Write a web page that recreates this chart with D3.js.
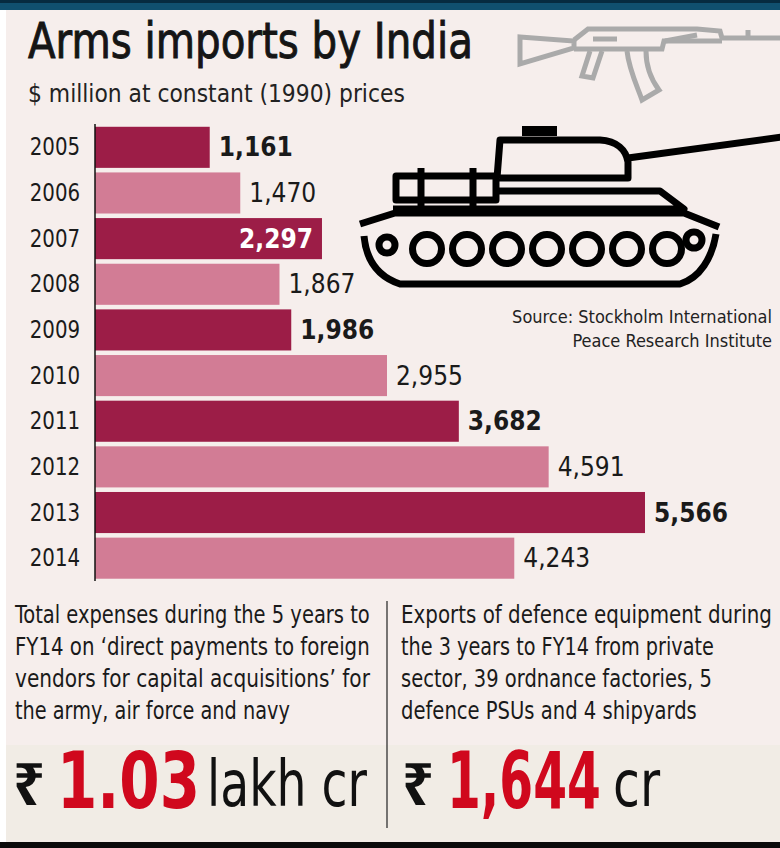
<!DOCTYPE html>
<html>
<head>
<meta charset="utf-8">
<script src="https://cdn.jsdelivr.net/npm/d3@7"></script>
<style>
  html, body { margin: 0; padding: 0; background: #ffffff; }
  svg { display: block; }
</style>
</head>
<body>
<script>
// ---------- data ----------
const years = ["2005","2006","2007","2008","2009","2010","2011","2012","2013","2014"];
const imports = [1161, 1470, 2297, 1867, 1986, 2955, 3682, 4591, 5566, 4243];
const titleText = "Arms imports by India";
const subtitleText = "$ million at constant (1990) prices";
const sourceLines = ["Source: Stockholm International", "Peace Research Institute"];
const leftNote = ["Total expenses during the 5 years to", "FY14 on \u2018direct payments to foreign", "vendors for capital acquisitions\u2019 for", "the army, air force and navy"];
const rightNote = ["Exports of defence equipment during", "the 3 years to FY14 from private", "sector, 39 ordnance factories, 5", "defence PSUs and 4 shipyards"];
const leftFigure = {sym: "\u20B9", num: "1.03", unit: "lakh cr"};
const rightFigure = {sym: "\u20B9", num: "1,644", unit: "cr"};

// ---------- setup ----------
const W = 780, H = 848;
const COND = '"Liberation Sans Narrow", "DejaVu Sans Condensed", sans-serif';
const svg = d3.select("body").append("svg").attr("width", W).attr("height", H);

svg.append("rect").attr("width", W).attr("height", H).attr("fill", "#ffffff");
svg.append("rect").attr("x", 6).attr("y", 10).attr("width", W - 6).attr("height", 833).attr("fill", "#f6eeec");
svg.append("rect").attr("x", 6).attr("y", 745).attr("width", W - 6).attr("height", 98).attr("fill", "#f1ece5");
svg.append("rect").attr("x", 0).attr("y", 0).attr("width", W).attr("height", 10).attr("fill", "#10506f");
svg.append("rect").attr("x", 0).attr("y", 0).attr("width", W).attr("height", 3).attr("fill", "#062b40");
svg.append("rect").attr("x", 0).attr("y", 842).attr("width", W).attr("height", 6).attr("fill", "#0a0a0a");

// squeeze a text horizontally to a given width (keeps it real text)
function fit(sel, w) {
  const len = sel.node().getComputedTextLength();
  const x0 = +sel.attr("x"), y0 = +sel.attr("y");
  sel.attr("x", 0).attr("y", 0)
     .attr("transform", `translate(${x0},${y0}) scale(${w / len},1)`);
  return sel;
}

// ---------- title ----------
fit(svg.append("text").attr("x", 28).attr("y", 58)
  .attr("font-family", COND).attr("font-size", 50).attr("fill", "#151515")
  .attr("stroke", "#151515").attr("stroke-width", 0.9)
  .text(titleText), 445);
fit(svg.append("text").attr("x", 28).attr("y", 102)
  .attr("font-family", COND).attr("font-size", 25).attr("fill", "#222")
  .text(subtitleText), 377);

// ---------- rifle icon ----------
const rifle = svg.append("g").attr("fill", "none").attr("stroke", "#aaaaaa").attr("stroke-width", 5).attr("stroke-linejoin", "miter");
rifle.append("path").attr("d", "M520,37 L574,41 L574,48 L520,64 Z");
rifle.append("path").attr("d", "M574,40 L588,29 L697,29 L720,31 L722,38 L780,38");
rifle.append("path").attr("d", "M574,49 L662,49 L664,41 L722,41");
rifle.append("path").attr("d", "M593,39 L617,39");
rifle.append("path").attr("d", "M665,41 L697,35");
rifle.append("path").attr("d", "M748,30 L748,40");
rifle.append("path").attr("d", "M590,51 L582,76 L593,78 L602,51");
rifle.append("path").attr("d", "M627,51 C629,70 638,88 642,100 L659,90 C650,78 646,64 646,51");

// ---------- tank icon ----------
const tank = svg.append("g").attr("fill", "none").attr("stroke", "#000").attr("stroke-width", 7).attr("stroke-linejoin", "round");
tank.append("line").attr("x1", 628).attr("y1", 158).attr("x2", 782).attr("y2", 137).attr("stroke-width", 7);
tank.append("rect").attr("x", 522).attr("y", 126).attr("width", 35).attr("height", 10).attr("fill", "#000").attr("stroke", "none");
tank.append("path").attr("d", "M497,178 L500,140 L600,140 C617,141 626,150 628,162 L628,178 L497,178");
tank.append("rect").attr("x", 396).attr("y", 176).attr("width", 100).attr("height", 24);
tank.append("line").attr("x1", 421).attr("y1", 168).attr("x2", 421).attr("y2", 207);
tank.append("line").attr("x1", 473).attr("y1", 168).attr("x2", 473).attr("y2", 207);
tank.append("path").attr("d", "M497,191 L660,191 L684,209 L393,209");
tank.append("path").attr("d", "M360,224 L395,213 L684,213 L719,227");
tank.append("path").attr("d", "M364,236 C366,258 376,276 400,284 L680,284 C700,278 712,258 716,234");
const wheelsX = [427, 467, 507, 547, 587, 627, 667];
wheelsX.forEach(x => tank.append("circle").attr("cx", x).attr("cy", 249).attr("r", 14.5));
tank.append("circle").attr("cx", 387).attr("cy", 245).attr("r", 8);
tank.append("circle").attr("cx", 694).attr("cy", 240).attr("r", 8);

// ---------- source ----------
sourceLines.forEach((s, i) => {
  svg.append("text").attr("x", 772).attr("y", 323 + i * 24).attr("text-anchor", "end")
    .attr("font-family", '"DejaVu Sans Condensed", sans-serif').attr("font-size", 18).attr("fill", "#222")
    .text(s);
});

// ---------- bars ----------
const x = d3.scaleLinear().domain([0, 5566]).range([95, 645]);
const y = d3.scaleBand().domain(years).range([124.5, 581]).paddingInner(0.1).paddingOuter(0.05);
const dark = "#9c1d47", light = "#d27c95";
const rows = years.map((yr, i) => ({ year: yr, value: imports[i], dark: i % 2 === 0 }));

svg.append("g").selectAll("rect").data(rows).join("rect")
  .attr("x", x(0)).attr("y", d => y(d.year))
  .attr("width", d => x(d.value) - x(0)).attr("height", y.bandwidth())
  .attr("fill", d => d.dark ? dark : light);

const yAxis = svg.append("g").attr("transform", `translate(${x(0)},0)`)
  .call(d3.axisLeft(y).tickSize(0).tickPadding(17));
yAxis.select(".domain").attr("stroke", "#111").attr("stroke-width", 1.5).attr("d", `M0,124V581`);
yAxis.selectAll("text").attr("font-family", COND).attr("font-size", 25).attr("fill", "#1a1a1a")
  .attr("transform", "scale(0.88,1)");

const fmt = d3.format(",");
svg.append("g").selectAll("text").data(rows).join("text")
  .attr("x", d => d.year === "2007" ? x(d.value) - 9 : x(d.value) + 9)
  .attr("y", d => y(d.year) + y.bandwidth() / 2 + 9)
  .attr("text-anchor", d => d.year === "2007" ? "end" : "start")
  .attr("font-family", COND).attr("font-size", 26)
  .attr("font-weight", d => d.dark ? "bold" : "normal")
  .attr("fill", d => d.year === "2007" ? "#ffffff" : "#1a1a1a")
  .text(d => fmt(d.value));

// ---------- bottom notes ----------
svg.append("line").attr("x1", 387).attr("x2", 387).attr("y1", 601).attr("y2", 828).attr("stroke", "#222").attr("stroke-width", 1.2);
const leftW = [355, 355, 355, 275], rightW = [371, 313, 311, 296];
leftNote.forEach((s, i) => {
  fit(svg.append("text").attr("x", 15).attr("y", 623 + i * 32)
    .attr("font-family", COND).attr("font-size", 25).attr("fill", "#1a1a1a").text(s), leftW[i]);
});
rightNote.forEach((s, i) => {
  fit(svg.append("text").attr("x", 401).attr("y", 623 + i * 32)
    .attr("font-family", COND).attr("font-size", 25).attr("fill", "#1a1a1a").text(s), rightW[i]);
});

function figure(f, xSym, xNum, wNum, xUnit, wUnit) {
  fit(svg.append("text").attr("x", xSym).attr("y", 805).attr("font-family", '"Noto Sans", "DejaVu Sans", sans-serif')
    .attr("font-size", 58).attr("font-weight", "bold").attr("fill", "#111").text(f.sym), 32);
  fit(svg.append("text").attr("x", xNum).attr("y", 808).attr("font-family", COND)
    .attr("font-size", 78).attr("font-weight", "bold").attr("fill", "#d0081d").text(f.num), wNum);
  fit(svg.append("text").attr("x", xUnit).attr("y", 806).attr("font-family", COND)
    .attr("font-size", 64).attr("fill", "#111").text(f.unit), wUnit);
}
figure(leftFigure, 13, 57, 143, 207, 160);
figure(rightFigure, 402, 447, 154, 613, 47);
</script>
</body>
</html>
